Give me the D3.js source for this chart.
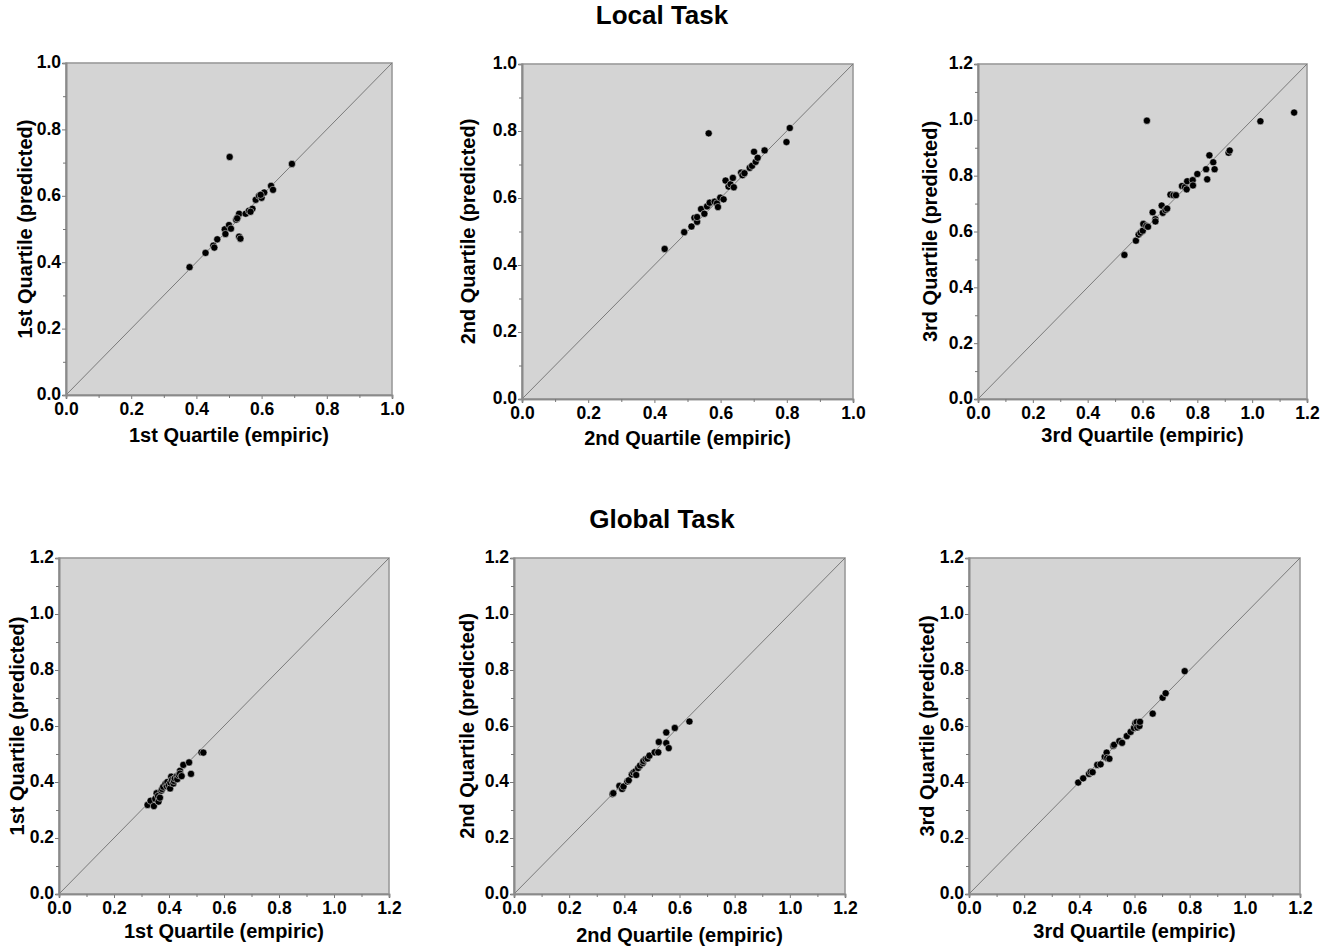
<!DOCTYPE html>
<html><head><meta charset="utf-8">
<script src="https://cdn.jsdelivr.net/npm/d3@7"></script>
<style>
body{margin:0;background:#fff}
text{font-family:"Liberation Sans",Arial,Helvetica,sans-serif;font-weight:bold;fill:#000}
</style>
</head><body>
<svg id="chart" width="1325" height="950"></svg>
<script>
// ---------- DATA ----------
const rowTitles = ["Local Task", "Global Task"];
const quartileNames = ["1st Quartile", "2nd Quartile", "3rd Quartile"];

const localQ1Empiric   = [0.379,0.428,0.452,0.455,0.464,0.487,0.489,0.500,0.506,0.502,0.522,0.527,0.531,0.531,0.535,0.551,0.561,0.572,0.582,0.592,0.600,0.608,0.629,0.635,0.693,0.525,0.566,0.597];
const localQ1Predicted = [0.385,0.428,0.450,0.444,0.469,0.499,0.485,0.512,0.501,0.717,0.528,0.536,0.546,0.477,0.471,0.546,0.555,0.561,0.588,0.600,0.594,0.610,0.630,0.618,0.696,0.532,0.552,0.603];

const localQ2Empiric   = [0.431,0.490,0.512,0.521,0.529,0.529,0.541,0.551,0.559,0.564,0.567,0.582,0.589,0.592,0.599,0.609,0.615,0.624,0.630,0.637,0.640,0.662,0.666,0.672,0.688,0.695,0.701,0.706,0.712,0.733,0.799,0.809];
const localQ2Predicted = [0.448,0.498,0.515,0.541,0.529,0.543,0.567,0.553,0.575,0.793,0.586,0.589,0.584,0.573,0.601,0.596,0.652,0.634,0.641,0.660,0.632,0.676,0.668,0.674,0.690,0.696,0.738,0.708,0.720,0.742,0.767,0.809];

const localQ3Empiric   = [0.534,0.576,0.586,0.593,0.601,0.603,0.614,0.620,0.616,0.637,0.647,0.647,0.670,0.674,0.684,0.690,0.702,0.713,0.722,0.744,0.755,0.761,0.763,0.783,0.784,0.800,0.832,0.836,0.844,0.858,0.863,0.914,0.918,1.030,1.153];
const localQ3Predicted = [0.516,0.567,0.589,0.596,0.603,0.627,0.620,0.617,0.997,0.669,0.644,0.636,0.693,0.667,0.677,0.682,0.732,0.730,0.730,0.763,0.759,0.751,0.780,0.784,0.765,0.806,0.823,0.787,0.873,0.848,0.823,0.882,0.890,0.995,1.026];

const globalQ1Empiric   = [0.322,0.333,0.345,0.350,0.355,0.360,0.362,0.367,0.372,0.375,0.379,0.387,0.392,0.394,0.399,0.404,0.405,0.408,0.411,0.416,0.418,0.421,0.428,0.430,0.435,0.440,0.440,0.446,0.452,0.473,0.480,0.518,0.525];
const globalQ1Predicted = [0.318,0.333,0.314,0.340,0.360,0.350,0.330,0.344,0.369,0.375,0.383,0.393,0.385,0.400,0.388,0.377,0.398,0.419,0.407,0.395,0.404,0.413,0.421,0.410,0.425,0.440,0.430,0.421,0.461,0.470,0.429,0.506,0.505];

const globalQ2Empiric   = [0.357,0.360,0.382,0.392,0.397,0.411,0.416,0.427,0.433,0.440,0.443,0.450,0.457,0.467,0.469,0.477,0.484,0.491,0.510,0.523,0.525,0.552,0.552,0.561,0.583,0.636];
const globalQ2Predicted = [0.357,0.360,0.386,0.375,0.384,0.402,0.406,0.427,0.434,0.438,0.425,0.450,0.459,0.468,0.475,0.482,0.484,0.494,0.506,0.506,0.543,0.577,0.539,0.521,0.593,0.616];

const globalQ3Empiric   = [0.396,0.414,0.435,0.441,0.448,0.465,0.477,0.492,0.499,0.501,0.509,0.523,0.526,0.545,0.555,0.572,0.586,0.598,0.603,0.608,0.610,0.618,0.620,0.666,0.702,0.713,0.782];
const globalQ3Predicted = [0.398,0.413,0.429,0.436,0.435,0.461,0.463,0.490,0.505,0.486,0.483,0.529,0.533,0.546,0.540,0.564,0.579,0.593,0.610,0.614,0.595,0.600,0.615,0.644,0.701,0.717,0.796];

const axisMaxes = [1.0, 1.0, 1.2, 1.2, 1.2, 1.2];
const majorTicks10 = [0.0,0.2,0.4,0.6,0.8,1.0];
const majorTicks12 = [0.0,0.2,0.4,0.6,0.8,1.0,1.2];
const minorTicks10 = [0.1,0.3,0.5,0.7,0.9];
const minorTicks12 = [0.1,0.3,0.5,0.7,0.9,1.1];

const panelX = [localQ1Empiric, localQ2Empiric, localQ3Empiric, globalQ1Empiric, globalQ2Empiric, globalQ3Empiric];
const panelY = [localQ1Predicted, localQ2Predicted, localQ3Predicted, globalQ1Predicted, globalQ2Predicted, globalQ3Predicted];

// ---------- LAYOUT ----------
const layout = [
  {l:66,  r:392,  t:63,  b:395, ylx:25,  xly:442},
  {l:522, r:853,  t:64,  b:399, ylx:468, xly:445},
  {l:978, r:1307, t:64,  b:399, ylx:930, xly:442},
  {l:59,  r:389,  t:558, b:894, ylx:17,  xly:938},
  {l:514, r:845,  t:558, b:894, ylx:467, xly:942},
  {l:969, r:1300, t:558, b:894, ylx:927, xly:938}
];
const titlePos = [{x:662, y:24}, {x:662, y:528}];

const svg = d3.select("#chart");
const fmt = d3.format(".1f");

rowTitles.forEach((t,i)=>{
  svg.append("text").attr("x",titlePos[i].x).attr("y",titlePos[i].y)
    .attr("text-anchor","middle").style("font-size","26px").text(t);
});

layout.forEach((L,i)=>{
  const max = axisMaxes[i];
  const major = max > 1.05 ? majorTicks12 : majorTicks10;
  const minor = max > 1.05 ? minorTicks12 : minorTicks10;
  const x = d3.scaleLinear().domain([0,max]).range([L.l,L.r]);
  const y = d3.scaleLinear().domain([0,max]).range([L.b,L.t]);
  const g = svg.append("g");

  g.append("rect").attr("x",L.l).attr("y",L.t).attr("width",L.r-L.l).attr("height",L.b-L.t)
    .attr("fill","#d4d4d4").attr("stroke","#9a9a9a").attr("stroke-width",1.6);

  // diagonal
  g.append("line").attr("x1",x(0)).attr("y1",y(0)).attr("x2",x(max)).attr("y2",y(max))
    .attr("stroke","#7a7a7a").attr("stroke-width",1);

  // axes
  const xa = g.append("g").attr("transform",`translate(0,${L.b})`)
    .call(d3.axisBottom(x).tickValues(major).tickFormat(fmt).tickSize(4).tickPadding(4));
  const xm = g.append("g").attr("transform",`translate(0,${L.b})`)
    .call(d3.axisBottom(x).tickValues(minor).tickFormat("").tickSize(3));
  const ya = g.append("g").attr("transform",`translate(${L.l},0)`)
    .call(d3.axisLeft(y).tickValues(major).tickFormat(fmt).tickSize(4).tickPadding(1));
  const ym = g.append("g").attr("transform",`translate(${L.l},0)`)
    .call(d3.axisLeft(y).tickValues(minor).tickFormat("").tickSize(3));
  [xa,xm,ya,ym].forEach(a=>{
    a.select(".domain").attr("stroke","#8a8a8a").attr("stroke-width",1.6);
    a.selectAll(".tick line").attr("stroke","#777");
    a.selectAll("text").style("font-size","17.5px").style("font-weight","bold")
      .style("font-family",'"Liberation Sans",Arial,sans-serif').attr("fill","#000");
  });
  ya.selectAll(".tick text").attr("dy","0.28em");

  // points
  const pts = panelX[i].map((v,k)=>[v, panelY[i][k]]);
  g.selectAll("circle.pt").data(pts).join("circle").attr("class","pt")
    .attr("cx",d=>x(d[0])).attr("cy",d=>y(d[1])).attr("r",3.6)
    .attr("fill","#000").attr("stroke","#f4f4f4").attr("stroke-width",0.5);

  // labels
  const qn = quartileNames[i%3];
  g.append("text").attr("x",(L.l+L.r)/2).attr("y",L.xly).attr("text-anchor","middle")
    .style("font-size","20px").text(qn + " (empiric)");
  g.append("text").attr("transform",`translate(${L.ylx},${(L.t+L.b)/2}) rotate(-90)`)
    .attr("text-anchor","middle").attr("dy","0.35em").style("font-size","20px").text(qn + " (predicted)");
});
</script>
</body></html>
